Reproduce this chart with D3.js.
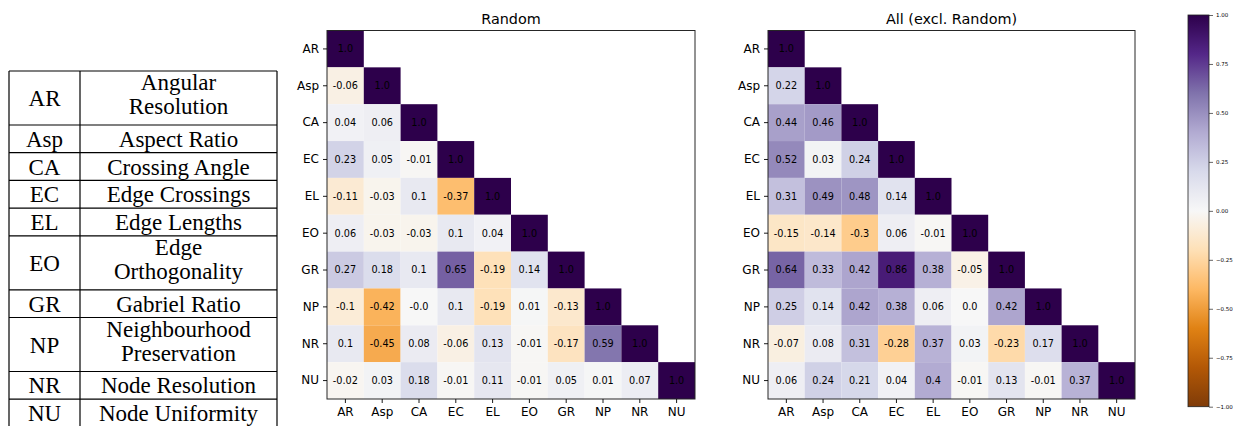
<!DOCTYPE html>
<html>
<head>
<meta charset="utf-8">
<script src="https://cdn.jsdelivr.net/npm/d3@7"></script>
<style>
  body { margin: 0; background: #fff; }
  svg { display: block; }
</style>
</head>
<body>
<div class="chart"></div>
<script>
// metrics shown on both axes
const metrics = ["AR", "Asp", "CA", "EC", "EL", "EO", "GR", "NP", "NR", "NU"];

// full names for the legend table (one entry per line)
const metricNames = [
  ["Angular", "Resolution"],
  ["Aspect Ratio"],
  ["Crossing Angle"],
  ["Edge Crossings"],
  ["Edge Lengths"],
  ["Edge", "Orthogonality"],
  ["Gabriel Ratio"],
  ["Neighbourhood", "Preservation"],
  ["Node Resolution"],
  ["Node Uniformity"]
];

// lower triangle, row by row
const randomCorr = [
  [1.0],
  [-0.06, 1.0],
  [0.04, 0.06, 1.0],
  [0.23, 0.05, -0.01, 1.0],
  [-0.11, -0.03, 0.1, -0.37, 1.0],
  [0.06, -0.03, -0.03, 0.1, 0.04, 1.0],
  [0.27, 0.18, 0.1, 0.65, -0.19, 0.14, 1.0],
  [-0.1, -0.42, -0, 0.1, -0.19, 0.01, -0.13, 1.0],
  [0.1, -0.45, 0.08, -0.06, 0.13, -0.01, -0.17, 0.59, 1.0],
  [-0.02, 0.03, 0.18, -0.01, 0.11, -0.01, 0.05, 0.01, 0.07, 1.0]
];

const allCorr = [
  [1.0],
  [0.22, 1.0],
  [0.44, 0.46, 1.0],
  [0.52, 0.03, 0.24, 1.0],
  [0.31, 0.49, 0.48, 0.14, 1.0],
  [-0.15, -0.14, -0.3, 0.06, -0.01, 1.0],
  [0.64, 0.33, 0.42, 0.86, 0.38, -0.05, 1.0],
  [0.25, 0.14, 0.42, 0.38, 0.06, 0, 0.42, 1.0],
  [-0.07, 0.08, 0.31, -0.28, 0.37, 0.03, -0.23, 0.17, 1.0],
  [0.06, 0.24, 0.21, 0.04, 0.4, -0.01, 0.13, -0.01, 0.37, 1.0]
];

const colorbarTicks = [-1, -0.75, -0.5, -0.25, 0, 0.25, 0.5, 0.75, 1];

var width = 1238, height = 426;

var svg = d3.select(".chart")
  .append("svg")
    .attr("width", width)
    .attr("height", height)
    .style("background", "#fff");

// matplotlib PuOr, -1 = brown, +1 = purple
var color = d3.scaleLinear()
  .domain(d3.range(11).map(i => -1 + i * 0.2))
  .range(["#7f3b08", "#b35806", "#e08214", "#fdb863", "#fee0b6", "#f7f7f7",
          "#d8daeb", "#b2abd2", "#8073ac", "#542788", "#2d004b"])
  .interpolate(d3.interpolateRgb)
  .clamp(true);

function fmt(v) {
  if (Object.is(v, -0)) return "-0.0";
  if (Number.isInteger(v)) return v.toFixed(1);
  return String(v);
}

//TABLE
var table = svg.append("g").attr("class", "table");
var tLeft = 9, tMid = 80, tRight = 277, tTop = 71;
var rowH = d => d.length > 1 ? 54 : 27.7;

var rows = [];
var yy = tTop;
metrics.forEach((m, i) => {
  var h = rowH(metricNames[i]);
  rows.push({abbr: m, lines: metricNames[i], y0: yy, h: h});
  yy += h;
});

var rowG = table.selectAll(".row")
  .data(rows)
  .enter().append("g")
    .attr("class", "row");

rowG.append("text")
    .attr("x", (tLeft + tMid) / 2)
    .attr("y", d => d.y0 + d.h / 2 + 8)
    .attr("text-anchor", "middle")
    .style("font-family", "'Liberation Serif', 'Times New Roman', serif")
    .style("font-size", "23px")
    .text(d => d.abbr);

rowG.each(function(d) {
  var g = d3.select(this);
  var c = d.y0 + d.h / 2;
  var offs = d.lines.length > 1 ? [-8, 16] : [8];
  d.lines.forEach((line, k) => {
    g.append("text")
      .attr("x", (tMid + tRight) / 2)
      .attr("y", c + offs[k])
      .attr("text-anchor", "middle")
      .style("font-family", "'Liberation Serif', 'Times New Roman', serif")
      .style("font-size", "23px")
      .text(line);
  });
});

// grid lines
table.selectAll(".hline")
  .data(rows.map(r => r.y0).concat([yy]))
  .enter().append("line")
    .attr("x1", tLeft).attr("x2", tRight)
    .attr("y1", d => d).attr("y2", d => d)
    .attr("stroke", "#000").attr("stroke-width", 1.2);

table.selectAll(".vline")
  .data([tLeft, tMid, tRight])
  .enter().append("line")
    .attr("x1", d => d).attr("x2", d => d)
    .attr("y1", tTop).attr("y2", yy)
    .attr("stroke", "#000").attr("stroke-width", 1.2);

//HEATMAPS
function heatmap(matrix, title, left, right, top, bottom) {
  var g = svg.append("g");

  var x = d3.scaleBand().domain(metrics).range([left, right]).padding(0);
  var y = d3.scaleBand().domain(metrics).range([top, bottom]).padding(0);

  var cells = [];
  matrix.forEach((row, i) => row.forEach((v, j) => {
    cells.push({row: metrics[i], col: metrics[j], value: v});
  }));

  g.selectAll("rect.cell")
    .data(cells)
    .enter().append("rect")
      .attr("class", "cell")
      .attr("x", d => x(d.col))
      .attr("y", d => y(d.row))
      .attr("width", x.bandwidth())
      .attr("height", y.bandwidth())
      .attr("fill", d => color(d.value));

  g.selectAll("text.cell")
    .data(cells)
    .enter().append("text")
      .attr("class", "cell")
      .attr("x", d => x(d.col) + x.bandwidth() / 2)
      .attr("y", d => y(d.row) + y.bandwidth() / 2)
      .attr("dy", "0.35em")
      .attr("text-anchor", "middle")
      .style("font-family", "'DejaVu Sans', sans-serif")
      .style("font-size", "9.7px")
      .style("fill", "#000")
      .text(d => fmt(d.value));

  // frame
  g.append("rect")
    .attr("x", left).attr("y", top)
    .attr("width", right - left).attr("height", bottom - top)
    .attr("fill", "none")
    .attr("stroke", "#262626")
    .attr("stroke-width", 1);

  var xAx = g.append("g")
    .attr("transform", "translate(0," + bottom + ")")
    .call(d3.axisBottom(x).tickSize(4).tickPadding(4));
  var yAx = g.append("g")
    .attr("transform", "translate(" + left + ",0)")
    .call(d3.axisLeft(y).tickSize(4).tickPadding(4));

  [xAx, yAx].forEach(a => {
    a.select(".domain").remove();
    a.selectAll("line").attr("stroke", "#000").attr("stroke-width", 0.9);
    a.selectAll("text")
      .style("font-family", "'DejaVu Sans', sans-serif")
      .style("font-size", "12px")
      .style("fill", "#000");
  });

  g.append("text")
    .attr("x", (left + right) / 2)
    .attr("y", top - 7)
    .attr("text-anchor", "middle")
    .style("font-family", "'DejaVu Sans', sans-serif")
    .style("font-size", "14.4px")
    .text(title);
}

heatmap(randomCorr, "Random", 327, 695, 30.5, 399);
heatmap(allCorr, "All (excl. Random)", 768, 1135, 30.5, 399);

//COLORBAR
var cbLeft = 1188, cbRight = 1209, cbTop = 15, cbBottom = 406.7;
var cbY = d3.scaleLinear().domain([-1, 1]).range([cbBottom, cbTop]);

var grad = svg.append("defs").append("linearGradient")
  .attr("id", "cbgrad")
  .attr("x1", 0).attr("y1", 1).attr("x2", 0).attr("y2", 0);
grad.selectAll("stop")
  .data(d3.range(0, 1.0001, 0.05))
  .enter().append("stop")
    .attr("offset", d => d)
    .attr("stop-color", d => color(-1 + 2 * d));

svg.append("rect")
  .attr("x", cbLeft).attr("y", cbTop)
  .attr("width", cbRight - cbLeft).attr("height", cbBottom - cbTop)
  .attr("fill", "url(#cbgrad)")
  .attr("stroke", "#222")
  .attr("stroke-width", 0.8);

var cbAx = svg.append("g")
  .attr("transform", "translate(" + cbRight + ",0)")
  .call(d3.axisRight(cbY).tickValues(colorbarTicks).tickFormat(d3.format(".2f")).tickSize(4).tickPadding(3));
cbAx.select(".domain").remove();
cbAx.selectAll("line").attr("stroke", "#000").attr("stroke-width", 0.6);
cbAx.selectAll("text")
  .style("font-family", "'DejaVu Sans', sans-serif")
  .style("font-size", "5.5px")
  .style("fill", "#000");
</script>
</body>
</html>
